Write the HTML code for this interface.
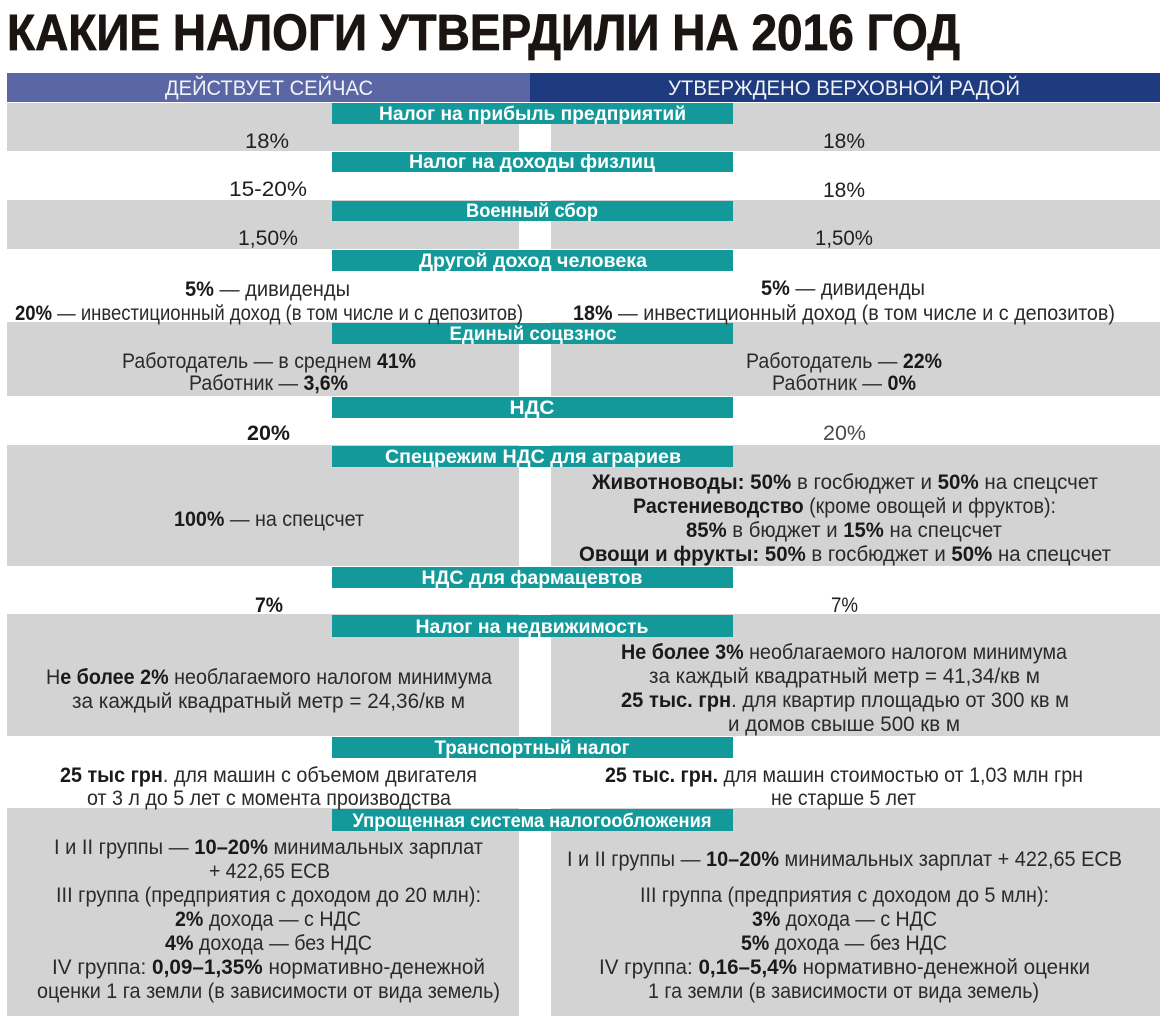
<!DOCTYPE html>
<html lang="ru">
<head>
<meta charset="utf-8">
<style>
  html,body{margin:0;padding:0;background:#fff;}
  svg{display:block;}
  .t{font-family:"Liberation Sans Narrow","Liberation Sans","DejaVu Sans",sans-serif;}
  .b{font-size:21px;fill:#2a2a2a;text-anchor:middle;}
  .bd{font-weight:bold;fill:#1a1a1a;}
  .lab{font-size:19px;fill:#ffffff;text-anchor:middle;font-weight:bold;}
  .hd{font-size:21px;fill:#f2f3f8;text-anchor:middle;}
</style>
</head>
<body>
<svg width="1170" height="1036" viewBox="0 0 1170 1036" xmlns="http://www.w3.org/2000/svg">
  <rect x="0" y="0" width="1170" height="1036" fill="#ffffff"/>

  <!-- Title -->
  <text class="t" x="7" y="50" font-size="51" font-weight="bold" fill="#1a1512" stroke="#1a1512" stroke-width="0.8" textLength="953" lengthAdjust="spacingAndGlyphs">КАКИЕ НАЛОГИ УТВЕРДИЛИ НА 2016 ГОД</text>

  <!-- Header -->
  <rect x="7" y="73" width="523" height="29" fill="#5a67a4"/>
  <rect x="530" y="73" width="630" height="29" fill="#1f3b7f"/>
  <text class="t hd" x="269" y="95" textLength="208" lengthAdjust="spacingAndGlyphs">ДЕЙСТВУЕТ СЕЙЧАС</text>
  <text class="t hd" x="844" y="95" textLength="352" lengthAdjust="spacingAndGlyphs">УТВЕРЖДЕНО ВЕРХОВНОЙ РАДОЙ</text>

  <!-- Gray rows -->
  <g fill="#d3d3d3">
    <rect x="7" y="103" width="512" height="48"/><rect x="551" y="103" width="609" height="48"/>
    <rect x="7" y="200" width="512" height="49"/><rect x="551" y="200" width="609" height="49"/>
    <rect x="7" y="322" width="512" height="74"/><rect x="551" y="322" width="609" height="74"/>
    <rect x="7" y="445" width="512" height="121"/><rect x="551" y="445" width="609" height="121"/>
    <rect x="7" y="614" width="512" height="122"/><rect x="551" y="614" width="609" height="122"/>
    <rect x="7" y="808" width="512" height="208"/><rect x="551" y="808" width="609" height="208"/>
  </g>

  <!-- Teal labels -->
  <g fill="#13999a">
    <rect x="332" y="103" width="401" height="21"/>
    <rect x="332" y="152" width="401" height="20"/>
    <rect x="332" y="201" width="401" height="20"/>
    <rect x="332" y="250" width="401" height="21"/>
    <rect x="332" y="323" width="401" height="21"/>
    <rect x="332" y="397" width="401" height="21"/>
    <rect x="332" y="446" width="401" height="21"/>
    <rect x="332" y="567" width="401" height="21"/>
    <rect x="332" y="615" width="401" height="22"/>
    <rect x="332" y="737" width="401" height="21"/>
    <rect x="332" y="809" width="401" height="22"/>
  </g>
  <g class="t lab">
    <text x="532.5" y="120" textLength="307" lengthAdjust="spacingAndGlyphs">Налог на прибыль предприятий</text>
    <text x="532" y="168" textLength="246" lengthAdjust="spacingAndGlyphs">Налог на доходы физлиц</text>
    <text x="532" y="217" textLength="132" lengthAdjust="spacingAndGlyphs">Военный сбор</text>
    <text x="533" y="267" textLength="228" lengthAdjust="spacingAndGlyphs">Другой доход человека</text>
    <text x="533" y="340" textLength="167" lengthAdjust="spacingAndGlyphs">Единый соцвзнос</text>
    <text x="532" y="414" textLength="45" lengthAdjust="spacingAndGlyphs">НДС</text>
    <text x="533" y="463" textLength="296" lengthAdjust="spacingAndGlyphs">Спецрежим НДС для аграриев</text>
    <text x="532" y="584" textLength="221" lengthAdjust="spacingAndGlyphs">НДС для фармацевтов</text>
    <text x="532" y="633" textLength="233" lengthAdjust="spacingAndGlyphs">Налог на недвижимость</text>
    <text x="532" y="754" textLength="195" lengthAdjust="spacingAndGlyphs">Транспортный налог</text>
    <text x="532" y="827" textLength="359" lengthAdjust="spacingAndGlyphs">Упрощенная система налогообложения</text>
  </g>

  <!-- Body text -->
  <g class="t b">
    <!-- R1 -->
    <text x="267" y="148" textLength="44" lengthAdjust="spacingAndGlyphs" fill="#1f1f1f">18%</text>
    <text x="844" y="148" textLength="42" lengthAdjust="spacingAndGlyphs" fill="#1f1f1f">18%</text>
    <!-- R2 -->
    <text x="268" y="196" textLength="78" lengthAdjust="spacingAndGlyphs" fill="#1f1f1f">15-20%</text>
    <text x="844" y="197" textLength="42" lengthAdjust="spacingAndGlyphs" fill="#1f1f1f">18%</text>
    <!-- R3 -->
    <text x="268" y="245" textLength="60" lengthAdjust="spacingAndGlyphs" fill="#1f1f1f">1,50%</text>
    <text x="844" y="245" textLength="58" lengthAdjust="spacingAndGlyphs" fill="#1f1f1f">1,50%</text>
    <!-- R4 -->
    <text x="267.5" y="296" textLength="165" lengthAdjust="spacingAndGlyphs"><tspan class="bd">5%</tspan> — дивиденды</text>
    <text x="269" y="320" textLength="508" lengthAdjust="spacingAndGlyphs"><tspan class="bd">20%</tspan> — инвестиционный доход (в том числе и с депозитов)</text>
    <text x="843" y="295" textLength="164" lengthAdjust="spacingAndGlyphs"><tspan class="bd">5%</tspan> — дивиденды</text>
    <text x="844" y="320" textLength="542" lengthAdjust="spacingAndGlyphs"><tspan class="bd">18%</tspan> — инвестиционный доход (в том числе и с депозитов)</text>
    <!-- R5 -->
    <text x="269" y="368" textLength="294" lengthAdjust="spacingAndGlyphs">Работодатель — в среднем <tspan class="bd">41%</tspan></text>
    <text x="268.5" y="390" textLength="159" lengthAdjust="spacingAndGlyphs">Работник — <tspan class="bd">3,6%</tspan></text>
    <text x="844" y="368" textLength="196" lengthAdjust="spacingAndGlyphs">Работодатель — <tspan class="bd">22%</tspan></text>
    <text x="844" y="390" textLength="144" lengthAdjust="spacingAndGlyphs">Работник — <tspan class="bd">0%</tspan></text>
    <!-- R6 -->
    <text x="268.5" y="440" textLength="43" lengthAdjust="spacingAndGlyphs" class="bd">20%</text>
    <text x="844.5" y="440" textLength="43" lengthAdjust="spacingAndGlyphs" fill="#4a4a4a">20%</text>
    <!-- R7 -->
    <text x="269" y="526" textLength="190" lengthAdjust="spacingAndGlyphs"><tspan class="bd">100%</tspan> — на спецсчет</text>
    <text x="845" y="489" textLength="506" lengthAdjust="spacingAndGlyphs"><tspan class="bd">Животноводы: 50%</tspan>  в госбюджет и <tspan class="bd">50%</tspan>  на спецсчет</text>
    <text x="844.5" y="513" textLength="423" lengthAdjust="spacingAndGlyphs"><tspan class="bd">Растениеводство</tspan> (кроме овощей и фруктов):</text>
    <text x="844" y="537" textLength="316" lengthAdjust="spacingAndGlyphs"><tspan class="bd">85%</tspan> в бюджет и <tspan class="bd">15%</tspan> на спецсчет</text>
    <text x="845" y="561" textLength="532" lengthAdjust="spacingAndGlyphs"><tspan class="bd">Овощи и фрукты: 50%</tspan>  в госбюджет и <tspan class="bd">50%</tspan>  на спецсчет</text>
    <!-- R8 -->
    <text x="269" y="612" textLength="28" lengthAdjust="spacingAndGlyphs" class="bd">7%</text>
    <text x="844.5" y="612" textLength="27" lengthAdjust="spacingAndGlyphs" fill="#1f1f1f">7%</text>
    <!-- R9 -->
    <text x="269" y="684" textLength="446" lengthAdjust="spacingAndGlyphs">Н<tspan class="bd">е более 2%</tspan> необлагаемого налогом минимума</text>
    <text x="268.5" y="708" textLength="393" lengthAdjust="spacingAndGlyphs">за каждый квадратный метр = 24,36/кв м</text>
    <text x="844" y="659" textLength="446" lengthAdjust="spacingAndGlyphs"><tspan class="bd">Не более 3%</tspan> необлагаемого налогом минимума</text>
    <text x="844.5" y="683" textLength="391" lengthAdjust="spacingAndGlyphs">за каждый квадратный метр = 41,34/кв м</text>
    <text x="845" y="707" textLength="448" lengthAdjust="spacingAndGlyphs"><tspan class="bd">25 тыс. грн</tspan>. для квартир площадью от 300 кв м</text>
    <text x="844" y="731" textLength="232" lengthAdjust="spacingAndGlyphs">и домов свыше 500 кв м</text>
    <!-- R10 -->
    <text x="268.5" y="782" textLength="417" lengthAdjust="spacingAndGlyphs"><tspan class="bd">25 тыс грн</tspan>. для машин с объемом двигателя</text>
    <text x="269" y="805" textLength="364" lengthAdjust="spacingAndGlyphs">от 3 л до 5 лет с момента производства</text>
    <text x="844" y="782" textLength="478" lengthAdjust="spacingAndGlyphs"><tspan class="bd">25 тыс. грн.</tspan> для машин стоимостью от 1,03 млн грн</text>
    <text x="843.5" y="805" textLength="145" lengthAdjust="spacingAndGlyphs">не старше 5 лет</text>
    <!-- R11 left -->
    <text x="268.5" y="854" textLength="429" lengthAdjust="spacingAndGlyphs">I и II группы — <tspan class="bd">10–20%</tspan> минимальных зарплат</text>
    <text x="269.5" y="878" textLength="121" lengthAdjust="spacingAndGlyphs">+ 422,65 ЕСВ</text>
    <text x="268.5" y="902" textLength="425" lengthAdjust="spacingAndGlyphs">III группа (предприятия с доходом до 20 млн):</text>
    <text x="268" y="926" textLength="186" lengthAdjust="spacingAndGlyphs"><tspan class="bd">2%</tspan> дохода — с НДС</text>
    <text x="268.5" y="950" textLength="207" lengthAdjust="spacingAndGlyphs"><tspan class="bd">4%</tspan> дохода — без НДС</text>
    <text x="268.5" y="974" textLength="433" lengthAdjust="spacingAndGlyphs">IV группа: <tspan class="bd">0,09–1,35%</tspan> нормативно-денежной</text>
    <text x="268.5" y="998" textLength="463" lengthAdjust="spacingAndGlyphs">оценки 1 га земли (в зависимости от вида земель)</text>
    <!-- R11 right -->
    <text x="844.5" y="866" textLength="555" lengthAdjust="spacingAndGlyphs">I и II группы — <tspan class="bd">10–20%</tspan> минимальных зарплат + 422,65 ЕСВ</text>
    <text x="844.5" y="902" textLength="409" lengthAdjust="spacingAndGlyphs">III группа (предприятия с доходом до 5 млн):</text>
    <text x="844.5" y="926" textLength="185" lengthAdjust="spacingAndGlyphs"><tspan class="bd">3%</tspan> дохода — с НДС</text>
    <text x="844" y="950" textLength="206" lengthAdjust="spacingAndGlyphs"><tspan class="bd">5%</tspan> дохода — без НДС</text>
    <text x="844.5" y="974" textLength="491" lengthAdjust="spacingAndGlyphs">IV группа: <tspan class="bd">0,16–5,4%</tspan> нормативно-денежной оценки</text>
    <text x="843.5" y="998" textLength="391" lengthAdjust="spacingAndGlyphs">1 га земли (в зависимости от вида земель)</text>
  </g>
</svg>
</body>
</html>
